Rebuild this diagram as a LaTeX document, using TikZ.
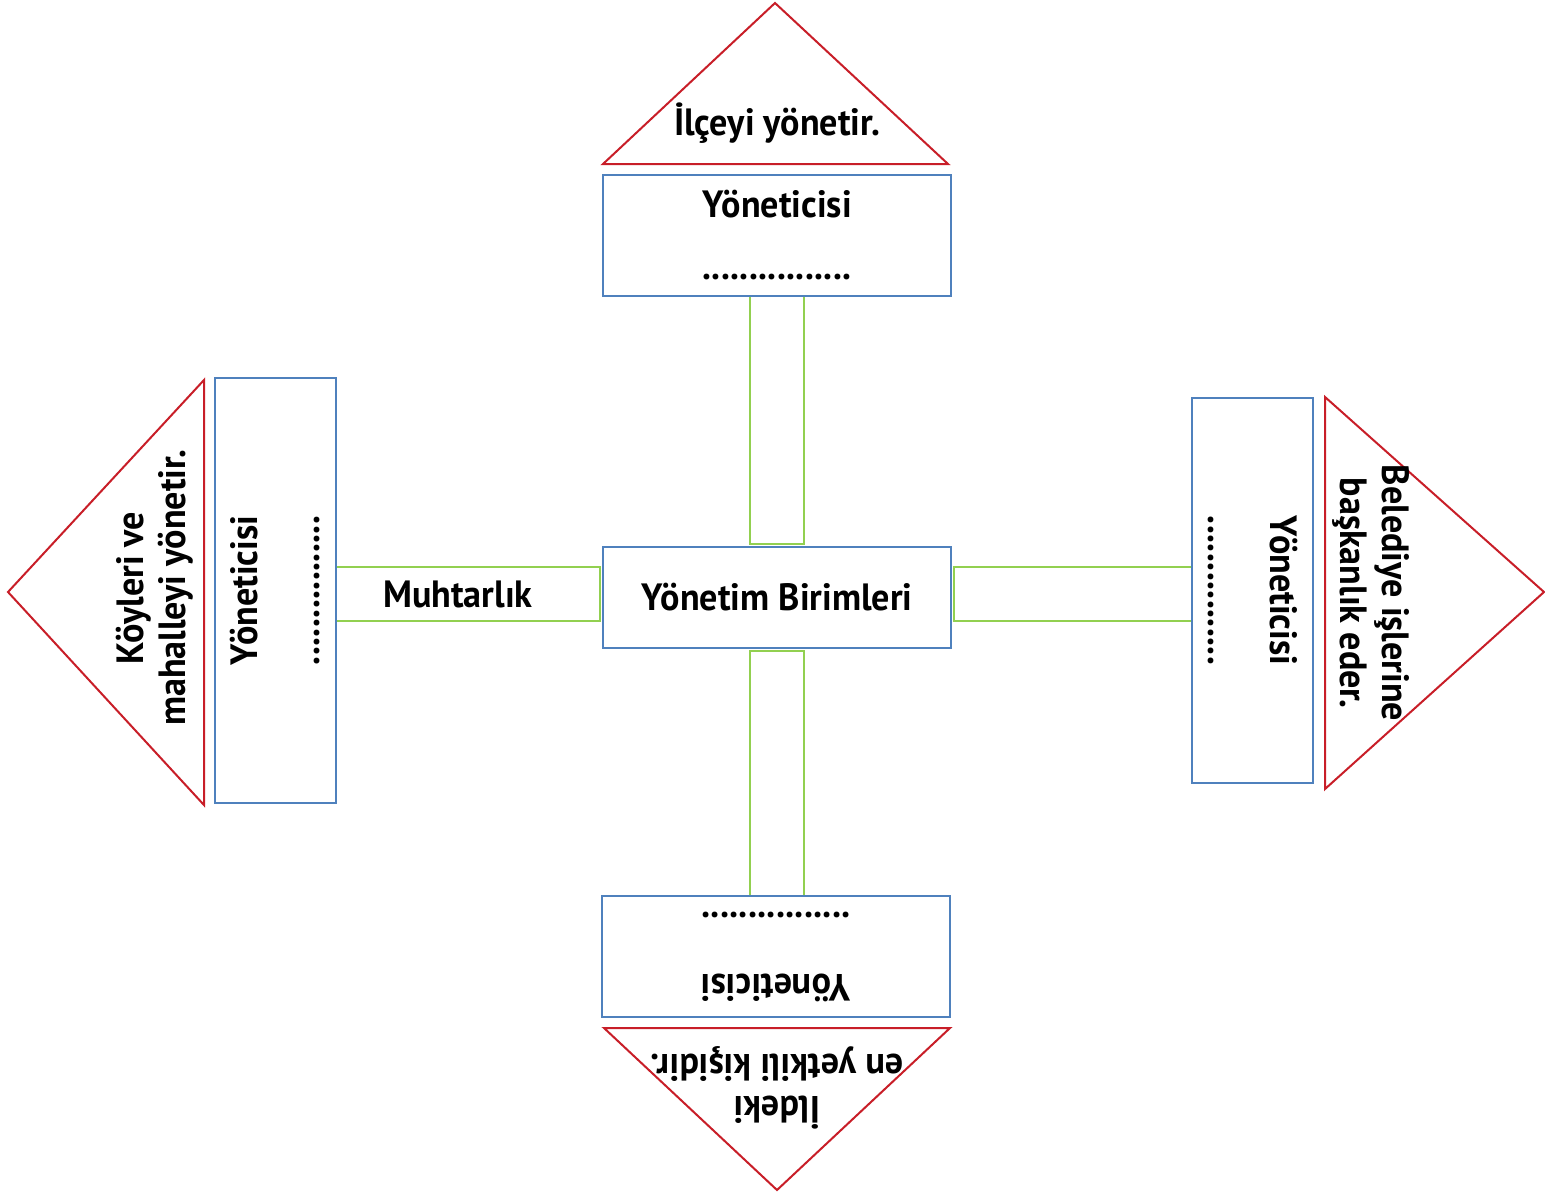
\documentclass[tikz,border=0pt]{standalone}
\usepackage{fontspec}
\setmainfont{PT Sans}[FakeStretch=0.95]
\usetikzlibrary{positioning,calc}
\pgfdeclarelayer{background}
\pgfsetlayers{background,main}

\definecolor{boxBlue}{RGB}{79,129,189}
\definecolor{triRed}{RGB}{200,30,40}
\definecolor{linkGreen}{RGB}{146,208,80}

\tikzset{
    unitBox/.style={draw=boxBlue, line width=1pt, fill=white, inner sep=0pt,
        align=center, font=\bfseries\fontsize{19}{25}\selectfont},
    triEdge/.style={draw=triRed, line width=1pt, line join=miter},
    triText/.style={align=center, inner sep=0pt, font=\bfseries\fontsize{19}{21}\selectfont},
    link/.style={draw=linkGreen, line width=1pt}
}

\begin{document}
\begin{tikzpicture}[x=0.5pt,y=-0.5pt]
            \useasboundingbox (0,0) rectangle (1545,1195);

            % centre
            \node[unitBox, minimum width=174pt, minimum height=50.5pt] (birim) at (777,597.5) {Yönetim Birimleri};

            % boxes
            \node[unitBox, minimum width=174pt, minimum height=60.5pt] (ilce) at (777,235.5)
                {Yöneticisi\\[6pt]................};
            \node[unitBox, minimum width=174pt, minimum height=60.5pt, rotate=180] (il) at (776,956.5)
                {Yöneticisi\\[6pt]................};
            \node[unitBox, minimum width=212.5pt, minimum height=60.5pt, rotate=90] (koy) at (275.5,590.5)
                {Yöneticisi\\[6pt]................};
            \node[unitBox, minimum width=192.5pt, minimum height=60.5pt, rotate=-90] (bel) at (1252.5,590.5)
                {Yöneticisi\\[6pt]................};

            % triangles
            \coordinate (topTip) at (775,3);
            \draw[triEdge] (603,164) -- (topTip) -- (948,164) -- cycle;
            \node[triText] (ilceText) at (777,123) {İlçeyi yönetir.};

            \coordinate (botTip) at (777,1190);
            \draw[triEdge] (604,1028) -- (botTip) -- (950,1028) -- cycle;
            \node[triText, rotate=180] (ilText) at (777,1088) {İldeki\\en yetkili kişidir.};

            \coordinate (leftTip) at (8,592);
            \draw[triEdge] (204,380) -- (leftTip) -- (204,805) -- cycle;
            \node[triText, rotate=90] (koyText) at (155,588) {Köyleri ve\\mahalleyi yönetir.};

            \coordinate (rightTip) at (1544,592);
            \draw[triEdge] (1325,397) -- (rightTip) -- (1325,789) -- cycle;
            \node[triText, rotate=-90] (belText) at (1371,593) {Belediye işlerine\\başkanlık eder.};

            % links
            \coordinate (linkL) at (750,0);
            \coordinate (linkR) at (804,0);
            \coordinate (linkTop) at (0,567);
            \coordinate (linkBot) at (0,621);

            \begin{pgfonlayer}{background}
                \draw[link] ($(linkL |- ilce.south) + (0,-3)$) rectangle ($(linkR |- birim.north) + (0,-2)$);
                \draw[link] ($(linkL |- birim.south) + (0,2)$) rectangle ($(linkR |- il.south) + (0,3)$);
                \draw[link] ($(koy.south |- linkTop) + (-3,0)$) rectangle ($(birim.west |- linkBot) + (-2,0)$);
                \draw[link] ($(birim.east |- linkTop) + (2,0)$) rectangle ($(bel.south |- linkBot) + (3,0)$);
            \end{pgfonlayer}

            \node[triText] (muhtar) at (458,594) {Muhtarlık};
        \end{tikzpicture}
\end{document}
